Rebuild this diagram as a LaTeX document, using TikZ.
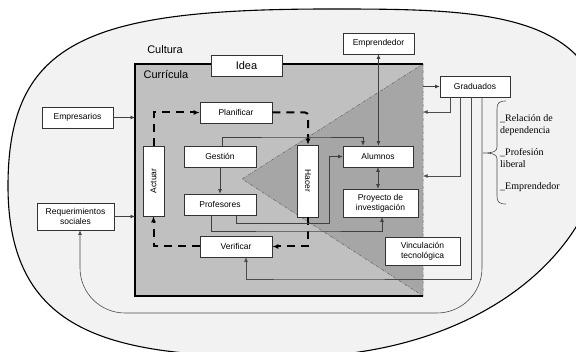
\documentclass[tikz,border=0pt]{standalone}
\usepackage{fontspec}
\setmainfont{Liberation Sans}
\newfontfamily\serifx{Liberation Serif}
\usetikzlibrary{arrows.meta,calc}
\definecolor{ellfill}{HTML}{F2F2F2}
\definecolor{recfill}{HTML}{C0C0C0}
\definecolor{trifill}{HTML}{A6A6A6}
\begin{document}
\begin{tikzpicture}[x=1pt,y=-1pt,
 box/.style={draw=black!80, fill=white, line width=0.6pt, inner sep=1pt, align=center, font=\fontsize{8.5}{10}\selectfont},
 conn/.style={draw=black!75, line width=0.6pt, -{Latex[length=4.5pt,width=3.8pt]}},
 outer/.style={draw=black!70, line width=0.6pt, -{Latex[length=4.5pt,width=3.8pt]}},
 loopd/.style={draw=black, line width=2pt, dash pattern=on 8pt off 6pt, -{Latex[length=6pt,width=5pt]}},
 dd/.style={draw=black!60, line width=0.5pt, dash pattern=on 3pt off 1.5pt on 0.8pt off 1.5pt},
 big/.style={font=\fontsize{11}{13}\selectfont},
 side/.style={anchor=west, align=left, font=\serifx\fontsize{10}{12}\selectfont, inner sep=0pt},
]
\useasboundingbox (0,0) rectangle (576,352);
% outer oval
\begin{scope}
\clip (0,0) rectangle (576,352);
\filldraw[fill=ellfill, draw=black, line width=1.1pt]
 (8,186) .. controls (8,40) and (90,9) .. (330,9)
 .. controls (480,9) and (600,10) .. (605,130)
 .. controls (605,250) and (480,357) .. (290,357)
 .. controls (120,357) and (8,340) .. (8,186) -- cycle;
\end{scope}
% curricula rectangle
\coordinate (rTL) at (135,64);
\coordinate (rTR) at (423,64);
\coordinate (rBL) at (135,296);
\coordinate (rBR) at (423,296);
\coordinate (tip) at (242,179);
\fill[recfill] (rTL) rectangle (rBR);
\fill[trifill] (rTR) -- (tip) -- (rBR) -- cycle;
\draw[dd] (rTR) -- (tip) -- (rBR) -- cycle;
\draw[black, line width=1.3pt] (rTR) -- (rTL) -- (rBL) -- (rBR);

\node[big] (cult) at (165,50) {Cultura};
\node[big] (curr) at (166,75) {Currícula};

% boxes
\node[box, big, minimum width=71pt, minimum height=21pt] (idea) at (246.5,65.5) {Idea};
\node[box, minimum width=71pt, minimum height=21pt] (empres) at (77.5,117.5) {Empresarios};
\node[box, minimum width=77pt, minimum height=27pt] (req) at (75.5,216.5) {Requerimientos\\sociales};
\node[box, minimum width=72pt, minimum height=21pt] (plan) at (236,112.5) {Planificar};
\node[box, minimum width=72pt, minimum height=21pt] (gest) at (220,156.5) {Gestión};
\node[box, minimum width=72pt, minimum height=21pt] (prof) at (220,204.5) {Profesores};
\node[box, minimum width=72pt, minimum height=21pt] (verif) at (236,246.5) {Verificar};
\node[box, minimum width=21pt, minimum height=70pt] (actuar) at (153.5,181) {\rotatebox{90}{Actuar}};
\node[box, minimum width=21pt, minimum height=72pt] (hacer) at (308,181) {\rotatebox{-90}{Hacer}};
\node[box, minimum width=70pt, minimum height=21pt] (alum) at (378,156.5) {Alumnos};
\node[box, minimum width=75pt, minimum height=28pt] (proy) at (380.5,203) {Proyecto de\\investigación};
\node[box, minimum width=71pt, minimum height=21pt] (empr) at (378.5,43.5) {Emprendedor};
\node[box, minimum width=70pt, minimum height=21pt] (grad) at (475,86.5) {Graduados};

% entries into the curricula
\draw[conn] (empres.east) -- (empres.east -| rTL);
\draw[conn] (req.east) -- (req.east -| rTL);
\draw[conn] (grad.west -| rBR) -- (grad.west);

% dashed PDCA loop
\draw[loopd] (actuar.north) |- (plan.west);
\draw[loopd, rounded corners=3pt] (plan.east) -| (hacer.north);
\draw[loopd] (hacer.south) |- (verif.east);
\draw[loopd] (verif.west) -| (actuar.south);

% inner connectors
\coordinate (ga) at (300,137);
\coordinate (pa) at (329,223);
\coordinate (pb) at (300,231);
\draw[conn] (gest.south) -- (prof.north);
\draw[conn] ([xshift=2pt]gest.north) |- (ga) -| ([xshift=-15pt]alum.north);
\draw[conn, {Latex[length=4.5pt,width=3.8pt]}-{Latex[length=4.5pt,width=3.8pt]}] (empr.south) -- (empr.south |- alum.north);
\draw[conn, {Latex[length=4.5pt,width=3.8pt]}-{Latex[length=4.5pt,width=3.8pt]}] (alum.south) -- (alum.south |- proy.north);
\draw[conn] ([xshift=16pt]prof.south) |- (pa) |- (alum.west);
\draw[conn] ([xshift=-9pt]prof.south) |- (pb) -| ([xshift=1.5pt]proy.south);

% graduados feedback
\coordinate (g1) at (423,112);
\coordinate (g2) at (423,176);
\coordinate (g3) at (300,279);
\coordinate (o1) at (300,313);
\draw[outer] ([xshift=-25pt]grad.south) |- (g1);
\draw[outer] ([xshift=-15pt]grad.south) |- (g2);
\draw[outer] ([xshift=-4pt]grad.south) |- (g3) -| ([xshift=10pt]verif.south);
\draw[outer, rounded corners=45pt] ([xshift=7pt]grad.south) |- (o1) -| ([xshift=4.5pt]req.south);

\node[box, minimum width=75pt, minimum height=28pt] (vinc) at (422.5,251) {Vinculación\\tecnológica};

% brace and outcomes
\draw[black!70, line width=0.6pt]
 (506,101) .. controls (499,101) and (497,103) .. (497,109) -- (497,147)
 .. controls (497,151) and (494,153) .. (483,153)
 .. controls (494,153) and (497,155) .. (497,159) -- (497,196)
 .. controls (497,202) and (499,204) .. (506,204);
\node[side] (o1t) at (500,125) {\_Relación de\\dependencia};
\node[side] (o2t) at (500,158) {\_Profesión\\liberal};
\node[side] (o3t) at (500,187) {\_Emprendedor};
\end{tikzpicture}
\end{document}
